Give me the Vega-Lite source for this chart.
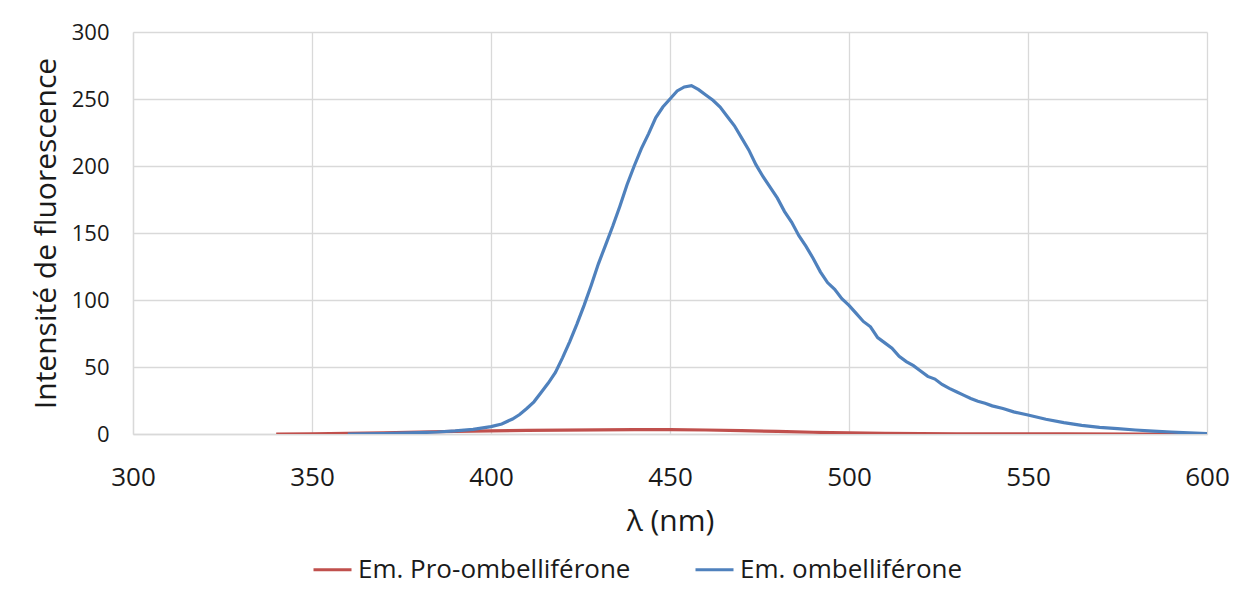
{
  "$schema": "https://vega.github.io/schema/vega-lite/v6.json",
  "width": 1074,
  "height": 402,
  "autosize": {"type": "none"},
  "padding": {"left": 133, "top": 32, "right": 41, "bottom": 162},
  "background": "white",
  "config": {
    "font": "Open Sans",
    "view": {"stroke": null},
    "axis": {
      "gridColor": "#d9d9d9",
      "gridWidth": 1.3,
      "domainColor": "#d9d9d9",
      "domainWidth": 1.3,
      "ticks": false,
      "labelColor": "#1a1a1a",
      "titleColor": "#1a1a1a",
      "labelFont": "Open Sans",
      "titleFont": "Open Sans",
      "titleFontWeight": "normal"
    },
    "legend": {"labelFont": "Open Sans", "labelColor": "#1a1a1a"}
  },
  "datasets": {
    "pro": [
      {"nm": 340, "v": 0}, {"nm": 350, "v": 0.1}, {"nm": 360, "v": 0.4}, {"nm": 370, "v": 0.9},
      {"nm": 380, "v": 1.5}, {"nm": 390, "v": 2.0}, {"nm": 400, "v": 2.4}, {"nm": 410, "v": 2.7},
      {"nm": 420, "v": 2.9}, {"nm": 430, "v": 3.1}, {"nm": 440, "v": 3.2}, {"nm": 450, "v": 3.3},
      {"nm": 460, "v": 3.0}, {"nm": 470, "v": 2.5}, {"nm": 480, "v": 1.9}, {"nm": 490, "v": 1.3},
      {"nm": 500, "v": 0.8}, {"nm": 510, "v": 0.5}, {"nm": 520, "v": 0.3}, {"nm": 530, "v": 0.2},
      {"nm": 540, "v": 0.1}, {"nm": 560, "v": 0.05}, {"nm": 580, "v": 0}, {"nm": 600, "v": 0}
    ],
    "umb": [
      {"nm": 360, "v": 0}, {"nm": 365, "v": 0.1}, {"nm": 370, "v": 0.3}, {"nm": 375, "v": 0.6},
      {"nm": 380, "v": 1.0}, {"nm": 385, "v": 1.5}, {"nm": 390, "v": 2.3}, {"nm": 395, "v": 3.4},
      {"nm": 400, "v": 5.5}, {"nm": 403, "v": 7.5}, {"nm": 406, "v": 11.2}, {"nm": 408, "v": 14.5},
      {"nm": 410, "v": 19}, {"nm": 412, "v": 24}, {"nm": 414, "v": 31}, {"nm": 416, "v": 38},
      {"nm": 418, "v": 46}, {"nm": 420, "v": 57}, {"nm": 422, "v": 69}, {"nm": 424, "v": 82},
      {"nm": 426, "v": 96}, {"nm": 428, "v": 111}, {"nm": 430, "v": 127}, {"nm": 432, "v": 141},
      {"nm": 434, "v": 155}, {"nm": 436, "v": 170}, {"nm": 438, "v": 186}, {"nm": 440, "v": 200},
      {"nm": 442, "v": 213}, {"nm": 444, "v": 224}, {"nm": 446, "v": 236}, {"nm": 448, "v": 244},
      {"nm": 450, "v": 250}, {"nm": 452, "v": 256}, {"nm": 454, "v": 259}, {"nm": 456, "v": 260},
      {"nm": 458, "v": 257}, {"nm": 460, "v": 253}, {"nm": 462, "v": 249}, {"nm": 464, "v": 244},
      {"nm": 466, "v": 237}, {"nm": 468, "v": 230}, {"nm": 470, "v": 221}, {"nm": 472, "v": 212},
      {"nm": 474, "v": 201}, {"nm": 476, "v": 192}, {"nm": 478, "v": 184}, {"nm": 480, "v": 176},
      {"nm": 482, "v": 166}, {"nm": 484, "v": 158}, {"nm": 486, "v": 148}, {"nm": 488, "v": 140},
      {"nm": 490, "v": 131}, {"nm": 492, "v": 121}, {"nm": 494, "v": 113}, {"nm": 496, "v": 108},
      {"nm": 498, "v": 101}, {"nm": 500, "v": 96}, {"nm": 502, "v": 90}, {"nm": 504, "v": 84},
      {"nm": 506, "v": 80}, {"nm": 508, "v": 72}, {"nm": 510, "v": 68}, {"nm": 512, "v": 64},
      {"nm": 514, "v": 58}, {"nm": 516, "v": 54}, {"nm": 518, "v": 51}, {"nm": 520, "v": 47},
      {"nm": 522, "v": 43}, {"nm": 524, "v": 41}, {"nm": 526, "v": 37}, {"nm": 528, "v": 34},
      {"nm": 530, "v": 31.5}, {"nm": 532, "v": 29}, {"nm": 534, "v": 26.5}, {"nm": 536, "v": 24.5},
      {"nm": 538, "v": 23}, {"nm": 540, "v": 21}, {"nm": 543, "v": 19}, {"nm": 546, "v": 16.5},
      {"nm": 550, "v": 14.2}, {"nm": 555, "v": 11}, {"nm": 560, "v": 8.5}, {"nm": 565, "v": 6.5},
      {"nm": 570, "v": 5}, {"nm": 575, "v": 4}, {"nm": 580, "v": 3}, {"nm": 585, "v": 2.2},
      {"nm": 590, "v": 1.5}, {"nm": 595, "v": 0.8}, {"nm": 600, "v": 0.3}
    ]
  },
  "layer": [
    {
      "data": {"name": "pro"},
      "transform": [{"calculate": "'Em. Pro-ombelliférone'", "as": "serie"}],
      "mark": {"type": "line", "strokeWidth": 3.2, "clip": true},
      "encoding": {
        "x": {
          "field": "nm", "type": "quantitative",
          "scale": {"domain": [300, 600], "nice": false, "zero": false},
          "axis": {"values": [300, 350, 400, 450, 500, 550, 600], "title": "λ (nm)", "labelFontSize": 26, "labelFlush": false, "labelPadding": 30, "titleFontSize": 30, "titlePadding": 16}
        },
        "y": {
          "field": "v", "type": "quantitative",
          "scale": {"domain": [0, 300], "nice": false},
          "axis": {"values": [0, 50, 100, 150, 200, 250, 300], "title": "Intensité de fluorescence", "labelFontSize": 22, "labelPadding": 24, "titleFontSize": 30, "titlePadding": 10}
        },
        "color": {
          "field": "serie", "type": "nominal",
          "scale": {"domain": ["Em. Pro-ombelliférone", "Em. ombelliférone"], "range": ["#C0504D", "#4F81BD"]},
          "legend": {
            "title": null, "orient": "none", "direction": "horizontal",
            "legendX": 179, "legendY": 517,
            "symbolType": "stroke", "symbolStrokeWidth": 3, "symbolSize": 1444,
            "labelFontSize": 26, "labelLimit": 0, "labelOffset": 5, "columnPadding": 58
          }
        }
      }
    },
    {
      "data": {"name": "umb"},
      "transform": [{"calculate": "'Em. ombelliférone'", "as": "serie"}],
      "mark": {"type": "line", "strokeWidth": 3.2, "clip": true},
      "encoding": {
        "x": {"field": "nm", "type": "quantitative"},
        "y": {"field": "v", "type": "quantitative"},
        "color": {"field": "serie", "type": "nominal"}
      }
    }
  ]
}
